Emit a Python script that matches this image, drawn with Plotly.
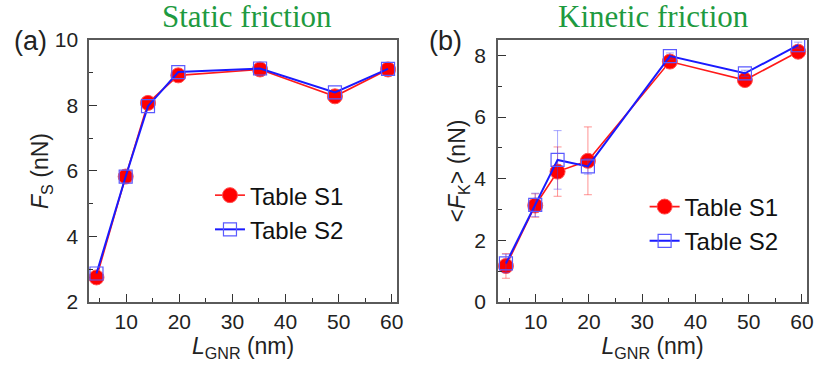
import plotly.graph_objects as go

# ---- data ----
L_gnr = [4.4, 9.9, 14.1, 19.8, 35.2, 49.3, 59.3]

fs_s1 = [2.75, 5.83, 8.08, 8.92, 9.10, 8.28, 9.10]
fs_s2 = [2.87, 5.83, 7.98, 9.02, 9.13, 8.40, 9.12]

fk_s1 = [1.17, 3.13, 4.23, 4.58, 7.80, 7.20, 8.12]
fk_s2 = [1.25, 3.15, 4.61, 4.40, 7.98, 7.42, 8.33]
fk_s1_err = [0.40, 0.38, 0.80, 1.10, 0.10, 0.10, 0.10]
fk_s2_err = [0.30, 0.38, 0.95, 0.25, 0.10, 0.10, 0.10]

series_names = ["Table S1", "Table S2"]
x_ticks = [10, 20, 30, 40, 50, 60]
ya_ticks = [2, 4, 6, 8, 10]
yb_ticks = [0, 2, 4, 6, 8]

RED = "#ff1a1a"
BLUE = "#1a1aff"
SANS = "Liberation Sans, Arial, sans-serif"
SERIF = "Liberation Serif, Times New Roman, serif"
W, H = 817, 369

fig = go.Figure()

def add_pair(xa, ya, y1, y2, legend, e1=None, e2=None):
    fig.add_trace(go.Scatter(
        x=L_gnr, y=y1, name=series_names[0], mode="lines+markers",
        xaxis=xa, yaxis=ya, legend=legend,
        line=dict(color=RED, width=1.6),
        marker=dict(symbol="circle", size=15, color="#ff0000",
                    line=dict(color="#ff5050", width=1)),
        error_y=None if e1 is None else dict(type="data", array=e1, color="rgba(255,60,60,0.55)",
                                             thickness=1, width=4),
    ))
    fig.add_trace(go.Scatter(
        x=L_gnr, y=y2, name=series_names[1], mode="lines+markers",
        xaxis=xa, yaxis=ya, legend=legend,
        line=dict(color=BLUE, width=2),
        marker=dict(symbol="square-open", size=13, color="#5a5aff",
                    line=dict(color="#5a5aff", width=1.2)),
        error_y=None if e2 is None else dict(type="data", array=e2, color="rgba(60,60,255,0.45)",
                                             thickness=1, width=4),
    ))

add_pair("x", "y", fs_s1, fs_s2, "legend")
add_pair("x2", "y2", fk_s1, fk_s2, "legend2", fk_s1_err, fk_s2_err)

axis_common = dict(
    showline=True, linecolor="#5a5a5a", linewidth=1.5, mirror=True,
    ticks="inside", ticklen=8, tickwidth=1.2, tickcolor="#333333",
    showgrid=False, zeroline=False,
    tickfont=dict(family=SANS, size=21, color="#222222"),
    automargin=False,
)

xtitle = dict(text="<i>L</i><sub>GNR</sub> (nm)", font=dict(family=SANS, size=23, color="#222222"), standoff=0)

def ann(text, px, py, font):
    return dict(text=text, x=px / W, y=1 - py / H, xref="paper", yref="paper",
                xanchor="center", yanchor="middle", showarrow=False, font=font)

title_font = dict(family=SERIF, size=31, color="#1e9a40")
label_font = dict(family=SANS, size=27, color="#222222")

fig.update_layout(
    width=W, height=H,
    margin=dict(l=0, r=0, t=0, b=0),
    paper_bgcolor="white", plot_bgcolor="white",
    showlegend=True,
    xaxis=dict(domain=[0.109, 0.486], range=[3.0, 61.0], tickvals=x_ticks, anchor="y",
               minor=dict(ticks="inside", dtick=5, tick0=0, ticklen=4, tickcolor="#333333"),
               title=xtitle, ticklabelstandoff=0, **axis_common),
    yaxis=dict(domain=[0.1816, 0.8916], range=[2, 10], tickvals=ya_ticks, anchor="x",
               minor=dict(ticks="inside", dtick=1, tick0=0, ticklen=4, tickcolor="#333333"),
               title=dict(text="<i>F</i><sub>S</sub> (nN)", font=dict(family=SANS, size=23, color="#222222"), standoff=0),
               ticklabelstandoff=5, **axis_common),
    xaxis2=dict(domain=[0.6095, 0.988], range=[2.9, 61.0], tickvals=x_ticks, anchor="y2",
                minor=dict(ticks="inside", dtick=5, tick0=0, ticklen=4, tickcolor="#333333"),
                title=xtitle, ticklabelstandoff=0, **axis_common),
    yaxis2=dict(domain=[0.1816, 0.8916], range=[0, 8.5], tickvals=yb_ticks, anchor="x2",
                minor=dict(ticks="inside", dtick=1, tick0=0, ticklen=4, tickcolor="#333333"),
                title=dict(text="&lt;<i>F</i><sub>K</sub>&gt; (nN)", font=dict(family=SANS, size=23, color="#222222"), standoff=2),
                ticklabelstandoff=6, **axis_common),
    legend=dict(x=0.257, y=0.424, xanchor="left", yanchor="middle", bgcolor="rgba(0,0,0,0)",
                font=dict(family=SANS, size=24, color="#111111"), tracegroupgap=0),
    legend2=dict(x=0.789, y=0.393, xanchor="left", yanchor="middle", bgcolor="rgba(0,0,0,0)",
                 font=dict(family=SANS, size=24, color="#111111"), tracegroupgap=0),
    annotations=[
        ann("Static friction", 247, 16, title_font),
        ann("Kinetic friction", 653, 16, title_font),
        ann("(a)", 30, 41, label_font),
        ann("(b)", 445, 41, label_font),
    ],
)

fig.write_html("out.html", config={"displayModeBar": False},
               post_script="document.body.style.margin='0';document.body.style.overflow='hidden';")
